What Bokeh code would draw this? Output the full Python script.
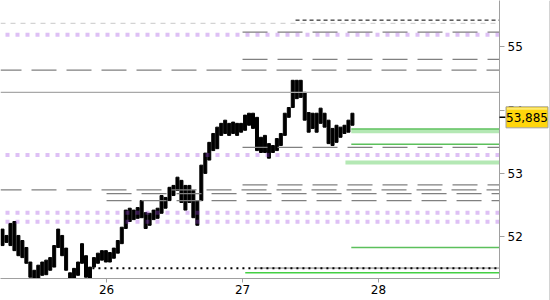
from bokeh.plotting import figure
from bokeh.models import Range1d, FixedTicker, GridBox
from bokeh.core.properties import value
from bokeh.embed import file_html
from bokeh.resources import INLINE

# ---- data -------------------------------------------------------------
x_ticks = [26, 27, 28]
y_ticks = [52, 53, 54, 55]
t_start, t_end = 25.22, 28.89
y_low, y_high = 51.34, 55.73
bar_start, bar_step = 25.2347, 0.029245

highs = [52.12, 52.02, 52.21, 52.24, 52.02, 51.94, 51.83, 51.60, 51.47, 51.55,
         51.60, 51.63, 51.67, 51.86, 52.12, 52.02, 51.82, 51.43, 51.50, 51.60,
         51.89, 51.70, 51.52, 51.67, 51.74, 51.78, 51.78, 51.75, 51.82, 51.94,
         52.15, 52.42, 52.45, 52.42, 52.46, 52.57, 52.38, 52.37, 52.42, 52.45,
         52.65, 52.62, 52.78, 52.81, 52.94, 52.89, 52.81, 52.81, 52.73, 52.57,
         53.13, 53.32, 53.49, 53.63, 53.73, 53.79, 53.84, 53.79, 53.81, 53.79,
         53.79, 53.92, 53.95, 53.95, 53.885, 53.57, 53.60, 53.47, 53.44, 53.55,
         53.63, 53.95, 54.04, 54.47, 54.47, 54.47, 54.28, 53.96, 53.95, 53.95,
         54.03, 53.95, 53.84, 53.71, 53.76, 53.73, 53.76, 53.84, 53.95]
lows = [51.86, 51.91, 51.86, 51.78, 51.70, 51.67, 51.58, 51.36, 51.30, 51.30,
        51.39, 51.40, 51.47, 51.52, 51.83, 51.70, 51.47, 51.30, 51.32, 51.39,
        51.58, 51.36, 51.30, 51.52, 51.58, 51.63, 51.60, 51.60, 51.66, 51.74,
        51.89, 52.13, 52.24, 52.27, 52.29, 52.30, 52.13, 52.18, 52.27, 52.29,
        52.37, 52.45, 52.57, 52.65, 52.73, 52.54, 52.42, 52.54, 52.30, 52.18,
        52.57, 53.00, 53.21, 53.36, 53.39, 53.60, 53.63, 53.60, 53.63, 53.60,
        53.65, 53.68, 53.76, 53.71, 53.36, 53.33, 53.33, 53.24, 53.33, 53.36,
        53.44, 53.60, 53.885, 54.04, 54.18, 54.20, 53.84, 53.65, 53.71, 53.65,
        53.79, 53.73, 53.47, 53.44, 53.49, 53.57, 53.63, 53.65, 53.76]
last_price = 53.885
last_price_text = "53,885"

lavender_levels = [55.19, 53.29, 52.38, 52.235]
light_gray_levels = [55.37]
black_dash_levels = [55.42]
black_dash_start = 27.39
gray_solid_levels = [54.28]
gray_dash_full_levels = [54.63, 52.74]
gray_dash_27_levels = [55.23, 54.80, 53.41, 52.82]
gray_dash_26_levels = [52.68, 52.57]
gray_thin_27_levels = [51.505]
green_levels = [53.70, 53.46, 51.83]
green_start = 27.80
light_green_levels = [53.665, 53.17]
light_green_starts = [27.80, 27.757]
bright_green_levels = [51.43]
bright_green_start = 27.02
black_dot_levels = [51.50]
black_dot_start = 25.896

bar_times = [bar_start + i * bar_step for i in range(len(highs))]

W, H, FW, FH = 550, 300, 499, 278   # canvas and frame sizes (px)

# ---- main figure ------------------------------------------------------
p = figure(width=W, height=H, output_backend="svg", toolbar_location=None,
           x_range=Range1d(t_start, t_end), y_range=Range1d(y_low, y_high),
           y_axis_location="right", min_border_left=0, min_border_top=0,
           min_border_right=W - FW, min_border_bottom=H - FH,
           background_fill_color="white", border_fill_color="white")
p.frame_align = False
p.outline_line_color = None
p.grid.visible = False

for ax in (p.xaxis[0], p.yaxis[0]):
    ax.axis_line_color = "#a0a0a0"
    ax.major_tick_line_color = "#a0a0a0"
    ax.minor_tick_line_color = None
    ax.major_tick_in = 0
    ax.major_label_text_font = "DejaVu Sans"
    ax.major_label_text_font_size = "12px"
    ax.major_label_text_color = "black"
p.xaxis[0].ticker = FixedTicker(ticks=x_ticks)
p.yaxis[0].ticker = FixedTicker(ticks=y_ticks)
p.xaxis[0].major_tick_out = 4
p.xaxis[0].major_label_standoff = 2
p.yaxis[0].major_tick_out = 5
p.yaxis[0].major_label_standoff = 3

# price bars
p.vbar(x=bar_times, bottom=lows, top=highs, width=0.022, color="black")

def hlines(levels, starts, **kw):
    if not isinstance(starts, list):
        starts = [starts] * len(levels)
    p.segment(x0=starts, y0=levels, x1=[t_end] * len(levels), y1=levels, **kw)

hlines(light_gray_levels, t_start, line_color="#c8c8c8", line_width=1, line_dash="5 5")
hlines(black_dash_levels, black_dash_start, line_color="black", line_width=1, line_dash="4 3")
hlines(gray_solid_levels, t_start, line_color="#a8a8a8", line_width=1.2)
hlines(gray_dash_full_levels, t_start, line_color="#808080", line_width=1.2,
       line_dash="25 10", line_dash_offset=4)
hlines(gray_dash_27_levels, 27.0, line_color="#808080", line_width=1.2, line_dash="25 10")
hlines(gray_dash_26_levels, 26.0, line_color="#808080", line_width=1.2, line_dash="25 10")
hlines(gray_thin_27_levels, 27.1, line_color="#808080", line_width=1)
hlines(light_green_levels, light_green_starts, line_color="#b4e8b4", line_width=4)
hlines(green_levels, green_start, line_color="#5cc05c", line_width=1.5)
hlines(bright_green_levels, bright_green_start, line_color="#44d044", line_width=1.5)
hlines(black_dot_levels, black_dot_start, line_color="black", line_width=2, line_dash="2 4")
hlines(lavender_levels, t_start, line_color="#9a40e0", line_alpha=0.33, line_width=4,
       line_dash="4 6", line_dash_offset=5)

# ---- transparent overlay figure with the last-price tag ---------------
px_x = (t_end - t_start) / FW
px_y = (y_high - y_low) / FH
q = figure(width=W, height=H, output_backend="svg", toolbar_location=None,
           x_range=Range1d(t_start, t_start + W * px_x),
           y_range=Range1d(y_high - H * px_y, y_high),
           x_axis_type=None, y_axis_type=None, min_border=0,
           background_fill_alpha=0, border_fill_alpha=0)
q.frame_align = False
q.outline_line_color = None
q.grid.visible = False

# right border of the chart window
q.segment(x0=[t_start + 549.5 * px_x], y0=[y_high - H * px_y],
          x1=[t_start + 549.5 * px_x], y1=[y_high], line_color="#a8a8a8", line_width=1)
# tick from the axis to the tag
q.segment(x0=[t_end], y0=[last_price], x1=[t_end + 6 * px_x], y1=[last_price],
          line_color="black", line_width=1.5)
# tag box and text
q.quad(left=[t_end + 6.5 * px_x], right=[t_end + 48.5 * px_x],
       bottom=[last_price - 10.5 * px_y], top=[last_price + 10.5 * px_y],
       fill_color="#ffd60c", line_color="#a0a0a0", line_width=1)
q.quad(left=[t_end + 7.5 * px_x], right=[t_end + 47.5 * px_x],
       bottom=[last_price + 7.5 * px_y], top=[last_price + 9.5 * px_y],
       fill_color="#ffea70", line_color=None)
q.text(x=[t_end + 27.5 * px_x], y=[last_price - 0.5 * px_y], text=[last_price_text],
       text_font=value("DejaVu Sans"), text_font_size="12px", text_color="black",
       text_align="center", text_baseline="middle")

layout = GridBox(children=[(p, 0, 0), (q, 0, 0)], width=W, height=H)
open("out.html", "w").write(file_html(layout, INLINE))
